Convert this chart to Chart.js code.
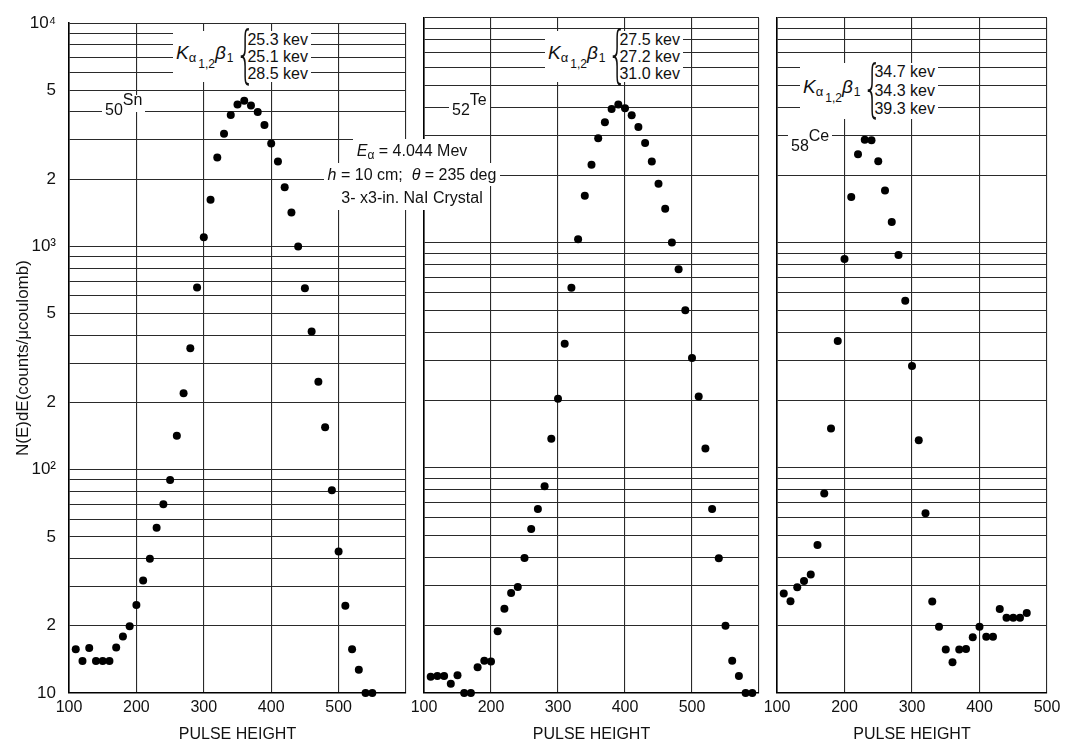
<!DOCTYPE html>
<html>
<head>
<meta charset="utf-8">
<script src="https://cdn.jsdelivr.net/npm/chart.js@4.4.0/dist/chart.umd.min.js"></script>
<style>
  html, body { margin: 0; padding: 0; background: #fff; }
  body { width: 1066px; height: 746px; position: relative; overflow: hidden;
         font-family: "Liberation Sans", Arial, sans-serif; color: #111; }
  canvas { position: absolute; top: 0; }
  .note { position: absolute; background: #fff; font-size: 16px; line-height: 17px; white-space: nowrap; }
  .kline { display: flex; align-items: center; padding: 0 3px; }
  .kname { font-size: 19px; margin-right: 0px; margin-top: 4px; }
  .kname i { font-style: italic; }
  .kname sub { font-size: 13px; vertical-align: -3px; }
  .kname sub sub { font-size: 12px; vertical-align: -6px; margin-left: 2px; }
  .kname .b1 { font-size: 12px; vertical-align: -3px; margin-left: 1px; }
  .brace { font-family: "DejaVu Sans", sans-serif; font-size: 62px; line-height: 52px; font-weight: 100;
           transform: scaleX(0.5); width: 10px; text-align: center; margin-top: -6px; margin-right: 4px; }
  .elem { padding: 0 3px; }
  .elem .lo { position: relative; top: 6px; }
  .elem .hi { position: relative; top: -4px; }
  .cond { position: absolute; left: 320px; width: 184px; top: 139px; text-align: center;
          font-size: 16px; line-height: 23.5px; }
  .cond span { background: #fff; padding: 0 4px; display: inline-block; }
  .cond sub { font-size: 12px; vertical-align: -3px; line-height: 0; }
</style>
</head>
<body>
<canvas id="snChart" width="420" height="746" style="left:0px"></canvas>
<canvas id="teChart" width="380" height="746" style="left:394px"></canvas>
<canvas id="ceChart" width="319" height="746" style="left:747px"></canvas>

<div class="note kline" style="left:173px; top:31px;">
  <span class="kname"><i>K</i><sub>α<sub>1,2</sub></sub><i>β</i><span class="b1">1</span></span>
  <span class="brace">{</span>
  <span>25.3 kev<br>25.1 kev<br>28.5 kev</span>
</div>
<div class="note elem" style="left:102px; top:95px;"><span class="lo">50</span><span class="hi">Sn</span></div>

<div class="note kline" style="left:545px; top:31px;">
  <span class="kname"><i>K</i><sub>α<sub>1,2</sub></sub><i>β</i><span class="b1">1</span></span>
  <span class="brace">{</span>
  <span>27.5 kev<br>27.2 kev<br>31.0 kev</span>
</div>
<div class="note elem" style="left:449px; top:95px;"><span class="lo">52</span><span class="hi">Te</span></div>

<div class="note kline" style="left:800px; top:63px; line-height:18.5px;">
  <span class="kname"><i>K</i><sub>α<sub>1,2</sub></sub><i>β</i><span class="b1">1</span></span>
  <span class="brace">{</span>
  <span>34.7 kev<br>34.3 kev<br>39.3 kev</span>
</div>
<div class="note elem" style="left:788px; top:131px;"><span class="lo">58</span><span class="hi">Ce</span></div>

<div class="cond">
  <span><i>E</i><sub>α</sub> = 4.044 Mev</span><br>
  <span><i>h</i> = 10 cm;&nbsp; <i>θ</i> = 235 deg</span><br>
  <span>3- x3-in. NaI Crystal</span>
</div>

<script>
// pulse height / counts per microcoulomb
const snPulse  = [110, 120, 130, 140, 150, 160, 170, 180, 190, 200, 210, 220, 230, 240, 250, 260, 270, 280, 290, 300,
                  310, 320, 330, 340, 350, 360, 370, 380, 390, 400, 410, 420, 430, 440, 450, 460, 470, 480, 490, 500,
                  510, 520, 530, 540, 550];
const snCounts = [15.7, 13.9, 15.9, 13.9, 13.9, 13.9, 16, 17.9, 19.9, 24.8, 31.9, 39.9, 55, 70, 90, 142, 220, 350, 655, 1100,
                  1620, 2500, 3200, 3880, 4320, 4500, 4280, 4000, 3500, 2890, 2400, 1840, 1420, 1000, 650, 416, 248, 155, 81, 43,
                  24.6, 15.7, 12.7, 10, 10];

const tePulse  = [110, 120, 130, 140, 150, 160, 170, 180, 190, 200, 210, 220, 230, 240, 250, 260, 270, 280, 290, 300,
                  310, 320, 330, 340, 350, 360, 370, 380, 390, 400, 410, 420, 430, 440, 450, 460, 470, 480, 490, 500,
                  510, 520, 530, 540, 550, 560, 570, 580, 590];
const teCounts = [11.8, 11.9, 11.9, 11.0, 12.0, 10, 10, 13, 13.9, 13.8, 18.8, 23.7, 27.8, 29.6, 39.8, 53.6, 65.7, 83, 135, 203,
                  357, 633, 1040, 1620, 2230, 2920, 3440, 3940, 4130, 3970, 3700, 3280, 2780, 2300, 1835, 1420, 1005, 764, 502, 308,
                  208, 122, 65.7, 39.7, 19.9, 13.9, 11.9, 10, 10];

const cePulse  = [110, 120, 130, 140, 150, 160, 170, 180, 190, 200, 210, 220, 230, 240, 250, 260, 270, 280, 290, 300,
                  310, 320, 330, 340, 350, 360, 370, 380, 390, 400, 410, 420, 430, 440, 450, 460, 470];
const ceCounts = [27.7, 25.6, 29.5, 31.5, 33.6, 45.5, 77, 150, 367, 850, 1600, 2480, 2880, 2860, 2310, 1710, 1240, 885, 554, 284,
                  133, 63, 25.5, 19.7, 15.6, 13.7, 15.6, 15.7, 17.7, 19.7, 17.8, 17.8, 23.6, 21.6, 21.6, 21.6, 22.7];

const xTickLabels = [100, 200, 300, 400, 500];
const yLabelValues = [10, 20, 50, 100, 200, 500, 1000, 2000, 5000, 10000];
const yLabelTexts  = ['10', '2', '5', '10²', '2', '5', '10³', '2', '5', '10⁴'];
const yDecades = [10, 100, 1000];
const yMultiples = [1, 2, 3, 4, 5, 6, 7, 8, 9];

const FONT = '"Liberation Sans", Arial, sans-serif';
const INK = '#111';

function makePanel(id, xs, ys, xMax, showY, yWidth, padRight) {
    const points = xs.map((x, i) => ({ x: x, y: ys[i] }));
    return new Chart(document.getElementById(id), {
        type: 'scatter',
        data: {
            datasets: [{
                data: points,
                backgroundColor: '#000',
                borderColor: '#000',
                borderWidth: 0,
                pointRadius: 4,
                pointHoverRadius: 4,
                clip: false
            }]
        },
        options: {
            responsive: false,
            animation: false,
            events: [],
            layout: { padding: { top: 18, right: padRight, left: 0, bottom: 0 } },
            plugins: { legend: { display: false }, tooltip: { enabled: false } },
            scales: {
                x: {
                    type: 'linear',
                    min: 100,
                    max: xMax,
                    ticks: {
                        stepSize: 100,
                        autoSkip: false,
                        maxRotation: 0,
                        padding: 5,
                        color: INK,
                        font: { family: FONT, size: 16 },
                        callback: v => xTickLabels.includes(v) ? String(v) : ''
                    },
                    grid: { color: '#2a2a2a', lineWidth: 1.1, drawTicks: false },
                    border: { color: '#000', width: 1.6 },
                    title: {
                        display: true,
                        text: 'PULSE HEIGHT',
                        color: INK,
                        font: { family: FONT, size: 16 },
                        padding: { top: 0, bottom: 2 }
                    },
                    afterFit: s => { s.height = 53; }
                },
                y: {
                    type: 'logarithmic',
                    min: 10,
                    max: 10000,
                    afterBuildTicks: s => {
                        const t = [];
                        yDecades.forEach(d => yMultiples.forEach(m => t.push({ value: d * m })));
                        t.push({ value: 10000 });
                        s.ticks = t;
                    },
                    ticks: {
                        display: showY,
                        autoSkip: false,
                        padding: 13,
                        color: INK,
                        font: { family: FONT, size: 17 },
                        callback: v => {
                            const k = yLabelValues.indexOf(v);
                            return k >= 0 ? yLabelTexts[k] : '';
                        }
                    },
                    grid: { color: '#2a2a2a', lineWidth: 1.1, drawTicks: false },
                    border: { color: '#000', width: 1.6 },
                    title: {
                        display: showY,
                        text: 'N(E)dE(counts/μcoulomb)',
                        color: INK,
                        font: { family: FONT, size: 17 },
                        padding: { top: 13, bottom: 0 }
                    },
                    afterFit: s => { s.width = yWidth; }
                }
            }
        }
    });
}

makePanel('snChart', snPulse, snCounts, 600, true, 69, 14);
makePanel('teChart', tePulse, teCounts, 600, false, 30, 15);
makePanel('ceChart', cePulse, ceCounts, 500, false, 30, 19);
</script>
</body>
</html>
